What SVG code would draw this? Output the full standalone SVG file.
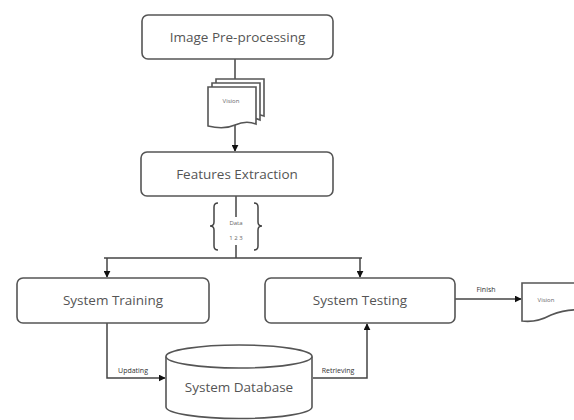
<svg xmlns="http://www.w3.org/2000/svg" width="574" height="420" viewBox="0 0 574 420">
<style>
.box{fill:#fff;stroke:#555;stroke-width:1.6}
.ln{fill:none;stroke:#444;stroke-width:1.5}
.t{font-family:"Open Sans","Liberation Sans",sans-serif;fill:#555;text-anchor:middle}
.big{font-size:13.5px}
.sm{font-size:6px;fill:#666}
.lab{font-size:7px;fill:#333}
</style>
<defs>
<marker id="ah" viewBox="0 0 10 10" refX="9" refY="5" markerWidth="7" markerHeight="7" markerUnits="userSpaceOnUse" orient="auto">
<path d="M0,0 L10,5 L0,10 Z" fill="#111"/>
</marker>
</defs>
<rect width="574" height="420" fill="#fff"/>
<g id="connectors">
<path class="ln" d="M235,59 V79"/>
<path class="ln" d="M235,124 V151" marker-end="url(#ah)"/>
<path class="ln" d="M236,196 V258"/>
<path class="ln" d="M104,258 H362"/>
<path class="ln" d="M107,258 V277" marker-end="url(#ah)"/>
<path class="ln" d="M360,258 V277" marker-end="url(#ah)"/>
<path class="ln" d="M107,323 V378 H165" marker-end="url(#ah)"/>
<path class="ln" d="M313,378 H367 V324" marker-end="url(#ah)"/>
<path class="ln" d="M455,299 H521" marker-end="url(#ah)"/>
<text class="t lab" x="133" y="373">Updating</text>
<text class="t lab" x="338" y="373">Retrieving</text>
<text class="t lab" x="486" y="292">Finish</text>
</g>
<g id="image-preprocessing">
<rect class="box" x="142" y="15" width="191" height="44" rx="6"/>
<text class="t big" x="237.5" y="42">Image Pre-processing</text>
</g>
<g id="vision-docs">
<path class="box" d="M216,79 L264,79 L264,116 Q254,112 243,117 Q232,122 216,118 Z"/>
<path class="box" d="M212,83 L260,83 L260,120 Q250,116 239,121 Q228,126 212,122 Z"/>
<path class="box" d="M208,87 L256,87 L256,124 Q246,120 235,125 Q224,130 208,126 Z"/>
<text class="t sm" x="231" y="103">Vision</text>
</g>
<g id="features-extraction">
<rect class="box" x="141" y="152" width="192" height="44" rx="6"/>
<text class="t big" x="237" y="179">Features Extraction</text>
</g>
<g id="data-annotation">
<path class="ln" d="M218,203 Q214,203 214,207 V222 Q214,226 210,226 Q214,226 214,230 V246 Q214,250 218,250" stroke-width="1.2"/>
<path class="ln" d="M254,203 Q258,203 258,207 V222 Q258,226 262,226 Q258,226 258,230 V246 Q258,250 254,250" stroke-width="1.2"/>
<rect x="230" y="217" width="12" height="28" fill="#fff"/>
<text class="t sm" x="236" y="225">Data</text>
<text class="t sm" x="236" y="240">1 2 3</text>
</g>
<g id="system-training">
<rect class="box" x="17" y="278" width="192" height="45" rx="6"/>
<text class="t big" x="113" y="305">System Training</text>
</g>
<g id="system-testing">
<rect class="box" x="265" y="278" width="190" height="45" rx="6"/>
<text class="t big" x="360" y="305">System Testing</text>
</g>
<g id="system-database">
<path class="box" d="M166,356.5 V407 A73,11.5 0 0 0 312,407 V356.5"/>
<ellipse class="box" cx="239" cy="356.5" rx="73" ry="11.5"/>
<text class="t big" x="239" y="392">System Database</text>
</g>
<g id="vision-output">
<path class="box" d="M522,283 L580,283 L580,310 Q566,309 551,315 Q536,323 522,321 Z"/>
<text class="t sm" x="546" y="302">Vision</text>
</g>
</svg>
